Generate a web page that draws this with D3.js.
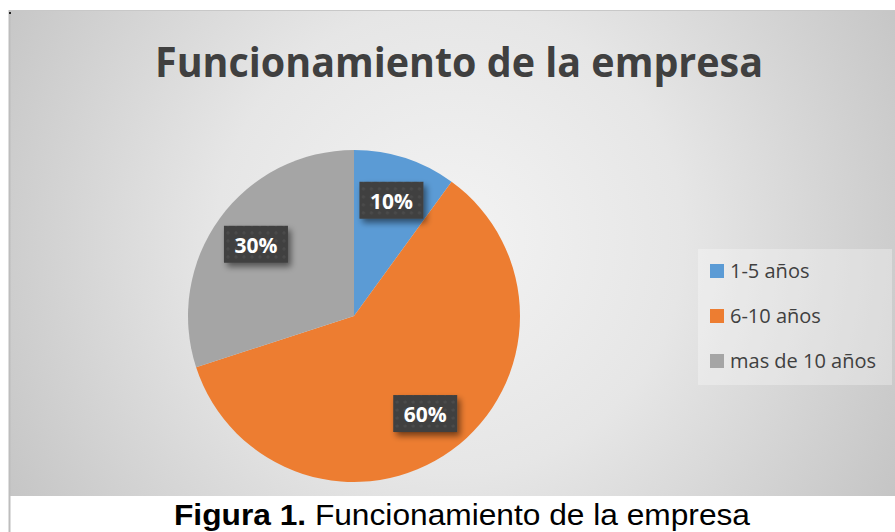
<!DOCTYPE html>
<html><head><meta charset="utf-8">
<script src="https://cdn.jsdelivr.net/npm/d3@7"></script>
<style>html,body{margin:0;padding:0;background:#fff;}svg{display:block;}</style>
</head><body>
<svg id="c" width="895" height="532"></svg>
<script>
const categories = ["1-5 años", "6-10 años", "mas de 10 años"];
const values = [10, 60, 30];
const colors = ["#5b9bd5", "#ed7d31", "#a5a5a5"];
const labels = ["10%", "60%", "30%"];
const title = "Funcionamiento de la empresa";

const svg = d3.select("#c");
const defs = svg.append("defs");
const rg = defs.append("radialGradient").attr("id","bg")
  .attr("gradientUnits","userSpaceOnUse").attr("cx",450).attr("cy",240).attr("r",520);
rg.append("stop").attr("offset","0").attr("stop-color","#f3f3f3");
rg.append("stop").attr("offset","0.45").attr("stop-color","#e6e6e6");
rg.append("stop").attr("offset","1").attr("stop-color","#c4c4c4");

const sh = defs.append("filter").attr("id","sh").attr("x","-20%").attr("y","-20%").attr("width","150%").attr("height","160%");
sh.append("feGaussianBlur").attr("in","SourceAlpha").attr("stdDeviation",3);
sh.append("feOffset").attr("dx",3).attr("dy",4).attr("result","b");
sh.append("feComponentTransfer").append("feFuncA").attr("type","linear").attr("slope",0.5);
const fm = sh.append("feMerge"); fm.append("feMergeNode"); fm.append("feMergeNode").attr("in","SourceGraphic");

const pat = defs.append("pattern").attr("id","dots").attr("patternUnits","userSpaceOnUse").attr("width",8).attr("height",8);
pat.append("rect").attr("width",8).attr("height",8).attr("fill","#404040");
pat.append("circle").attr("cx",4).attr("cy",4).attr("r",1.6).attr("fill","#4c4c4c");

// chart area
svg.append("rect").attr("x",9).attr("y",10).attr("width",886).attr("height",486).attr("fill","url(#bg)");
svg.append("line").attr("x1",9).attr("x2",895).attr("y1",10.5).attr("y2",10.5).attr("stroke","#c8c8c8");
svg.append("line").attr("x1",9.5).attr("x2",9.5).attr("y1",10).attr("y2",532).attr("stroke","#bdbdbd").attr("stroke-width",2);
svg.append("rect").attr("x",9).attr("y",12).attr("width",2).attr("height",2).attr("fill","#222");

svg.append("text").attr("x",459).attr("y",77).attr("text-anchor","middle")
  .attr("font-family","'Open Sans', sans-serif").attr("font-weight","bold").attr("font-size",41)
  .attr("fill","#404040").attr("textLength",608).attr("lengthAdjust","spacingAndGlyphs").text(title);

const cx = 354, cy = 316, R = 166;
const pie = d3.pie().sort(null).value(d => d)(values);
const arc = d3.arc().innerRadius(0).outerRadius(R);
const labArc = d3.arc().innerRadius(R*0.5).outerRadius(R*0.96);
const g = svg.append("g").attr("transform",`translate(${cx},${cy})`);
g.selectAll("path").data(pie).join("path").attr("d",arc).attr("fill",(d,i)=>colors[i]);

const lg = g.selectAll("g.l").data(pie).join("g").attr("class","l")
  .attr("transform",d=>{const c=labArc.centroid(d);return `translate(${c[0]},${c[1]})`;});
lg.append("rect").attr("x",-32).attr("y",-19).attr("width",64).attr("height",37)
  .attr("fill","url(#dots)").attr("filter","url(#sh)");
lg.append("text").attr("text-anchor","middle").attr("y",8).attr("fill","#fff")
  .attr("font-family","'Open Sans', sans-serif").attr("font-weight","bold").attr("font-size",21)
  .text((d,i)=>labels[i]);

// legend
svg.append("rect").attr("x",698).attr("y",249).attr("width",194).attr("height",136).attr("fill","#ffffff").attr("fill-opacity",0.3);
const leg = svg.selectAll("g.lg").data(categories).join("g").attr("class","lg")
  .attr("transform",(d,i)=>`translate(710,${271 + i*45})`);
leg.append("rect").attr("x",0).attr("y",-7).attr("width",14).attr("height",14).attr("fill",(d,i)=>colors[i]);
leg.append("text").attr("x",20).attr("y",7).attr("font-family","'Open Sans', sans-serif").attr("font-size",20)
  .attr("fill","#404040").text(d=>d);

// caption
const cap = svg.append("text").attr("x",174).attr("y",525)
  .attr("font-family","'Liberation Sans', Arial, sans-serif").attr("font-size",30).attr("fill","#000")
  .attr("textLength",576).attr("lengthAdjust","spacingAndGlyphs");
cap.append("tspan").attr("font-weight","bold").text("Figura 1.");
cap.append("tspan").text(" Funcionamiento de la empresa");
</script>
</body></html>
